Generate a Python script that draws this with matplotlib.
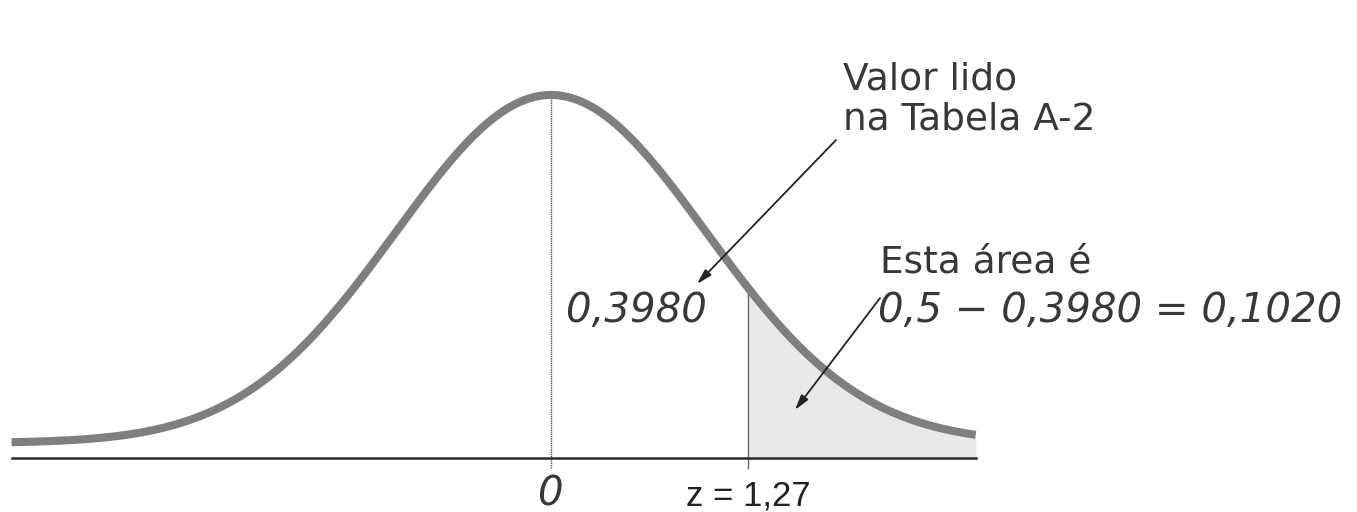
import numpy as np
import matplotlib.pyplot as plt

# values shown in the figure
z_value = 1.27
area_table = 0.3980
area_tail = 0.1020
z_left, z_right = -3.48, 2.74
baseline_offset = 0.0172  # curve sits slightly above the axis in the drawing

z = np.linspace(z_left, z_right, 600)
pdf = np.exp(-z ** 2 / 2) / np.sqrt(2 * np.pi) + baseline_offset

fig = plt.figure(figsize=(13.57, 5.12), dpi=100)
ax = fig.add_axes([0, 0, 1, 1])
ax.set_xlim(-551 / 155, 806 / 155)
ax.set_ylim(-54 / 872.4, 458 / 872.4)
ax.axis('off')

ink = '#383838'
curve_col = '#7f7f7f'

# shaded tail area
mask = z >= z_value
ax.fill_between(z[mask], 0, pdf[mask], color='#e9e9e9', lw=0, zorder=1)

# axis line
ax.plot([z_left, z_right], [0, 0], color='#2a2a2a', lw=1.8, zorder=3)

# vertical guides
peak = pdf.max()
y_at_z = np.exp(-z_value ** 2 / 2) / np.sqrt(2 * np.pi) + baseline_offset
ax.plot([0, 0], [-0.011, peak], color='#555555', lw=1.0, ls=(0, (1, 0.6)), zorder=2)
ax.plot([z_value, z_value], [-0.012, y_at_z], color='#666666', lw=1.0, zorder=2)

# the normal curve
ax.plot(z, pdf, color=curve_col, lw=5.8, solid_capstyle='butt', zorder=4)

font = 'DejaVu Sans'
fs = 27
fn = 29


def fmt(v):
    return f'{v:.4f}'.replace('.', ',')


ax.text(1.884, 0.422, 'Valor lido', fontsize=fs, family=font, color=ink, va='baseline')
ax.text(1.884, 0.376, 'na Tabela A-2', fontsize=fs, family=font, color=ink, va='baseline')
ax.text(0.10, 0.156, fmt(area_table), fontsize=fn, family=font,
        style='italic', color=ink, va='baseline')
ax.text(2.12, 0.213, 'Esta área é', fontsize=fs, family=font, color=ink, va='baseline')
ax.text(2.11, 0.156, '0,5 \u2212 ' + fmt(area_table) + ' = ' + fmt(area_tail),
        fontsize=fn, family=font, style='italic', color=ink, va='baseline')
ax.text(0, -0.054, '0', fontsize=fn, family=font, style='italic', color=ink,
        ha='center', va='baseline')
ax.text(z_value, -0.054, 'z = ' + f'{z_value:.2f}'.replace('.', ','), fontsize=25,
        family='Liberation Sans', color='#222222', ha='center', va='baseline')

arrow = dict(arrowstyle='-|>,head_length=0.9,head_width=0.25', color='#222222', lw=1.3,
             shrinkA=0, shrinkB=0)
ax.annotate('', xy=(0.942, 0.1995), xytext=(1.839, 0.3645), arrowprops=arrow, zorder=5)
ax.annotate('', xy=(1.574, 0.055), xytext=(2.123, 0.1834), arrowprops=arrow, zorder=5)

fig.savefig('out.png', dpi=100, facecolor='white')
